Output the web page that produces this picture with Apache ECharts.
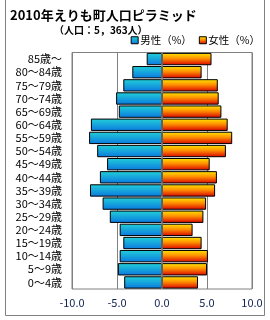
<!DOCTYPE html>
<html><head><meta charset="utf-8">
<script src="https://cdn.jsdelivr.net/npm/echarts@6/dist/echarts.min.js"></script>
<style>html,body{margin:0;padding:0;background:#fff}#c{width:270px;height:320px}</style>
</head><body><div id="c"></div>
<script>
const categories = ['0～4歳','5～9歳','10～14歳','15～19歳','20～24歳','25～29歳','30～34歳','35～39歳','40～44歳','45～49歳','50～54歳','55～59歳','60～64歳','65～69歳','70～74歳','75～79歳','80～84歳','85歳～'];
const male = [4.2,4.9,4.7,4.3,4.7,5.8,6.6,8.0,6.9,6.1,7.2,8.1,7.9,4.8,5.1,4.3,3.3,1.7];
const female = [4.0,5.0,5.1,4.4,3.4,4.6,4.9,5.9,6.1,5.3,7.1,7.8,7.3,6.6,6.3,6.2,4.4,5.5];
const xTicks = [-10,-5,0,5,10];

const font = '"Noto Sans CJK JP", "DejaVu Sans", sans-serif';
const maleGrad = {type:'linear',x:0,y:0,x2:0,y2:1,colorStops:[{offset:0,color:'#22d0d8'},{offset:1,color:'#0a78e0'}]};
const femaleGrad = {type:'linear',x:0,y:0,x2:0,y2:1,colorStops:[{offset:0,color:'#ffe800'},{offset:0.45,color:'#ff9000'},{offset:1,color:'#d80000'}]};

const chart = echarts.init(document.getElementById('c'));
chart.setOption({
  animation:false,
  title:[
    {text:'2010年えりも町人口ピラミッド',left:5,top:4,textStyle:{fontFamily:font,fontSize:13,fontWeight:'bold',color:'#000'}},
    {text:'（人口：5，363人）',left:49,top:20,textStyle:{fontFamily:font,fontSize:10,fontWeight:'bold',color:'#000'}}
  ],
  legend:{right:5,top:30,itemWidth:7,itemHeight:7,itemGap:7,icon:'rect',
    textStyle:{fontFamily:font,fontSize:10.5,color:'#000',padding:[0,0,0,-3]},
    data:[{name:'男性（%）',itemStyle:{color:maleGrad,borderColor:'#000',borderWidth:1}},
          {name:'女性（%）',itemStyle:{color:femaleGrad,borderColor:'#000',borderWidth:1}}]},
  grid:{left:72,right:18,top:52.5,bottom:31,show:true,borderColor:'#808080',borderWidth:1},
  xAxis:{type:'value',min:-10,max:10,interval:5,
    axisLine:{show:false},axisTick:{show:false},
    splitLine:{show:true,lineStyle:{color:'#808080',width:1}},
    axisLabel:{margin:8,fontFamily:font,fontSize:11,color:'#102050',
      formatter:v=>xTicks.includes(v)?v.toFixed(1):''}},
  yAxis:{type:'category',data:categories,
    axisLine:{show:false},axisTick:{show:false},
    axisLabel:{interval:0,margin:10,fontFamily:font,fontSize:11,color:'#000'}},
  series:[
    {name:'男性（%）',type:'bar',stack:'p',barCategoryGap:'6%',
      data:male.map(v=>-v),
      itemStyle:{color:maleGrad,borderColor:'#000',borderWidth:1}},
    {name:'女性（%）',type:'bar',stack:'p',barCategoryGap:'6%',
      data:female,
      itemStyle:{color:femaleGrad,borderColor:'#000',borderWidth:1},
      markLine:{silent:true,symbol:'none',label:{show:false},z:10,
        lineStyle:{color:'#808080',type:'solid',width:1.5},data:[{xAxis:0}]}}
  ],
  graphic:[{type:'rect',shape:{x:5.5,y:-1,width:259,height:316.5},style:{fill:null,stroke:'#808080',lineWidth:1},z:100,silent:true}]
});
</script></body></html>
